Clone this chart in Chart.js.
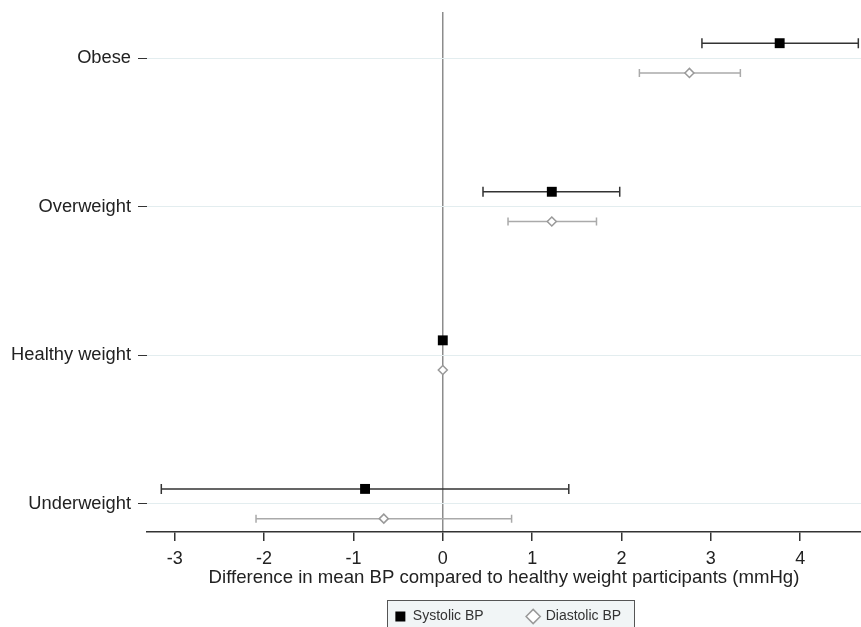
<!DOCTYPE html>
<html>
<head>
<meta charset="utf-8">
<script src="https://cdn.jsdelivr.net/npm/chart.js@4.4.0/dist/chart.umd.min.js"></script>
<style>
html,body{margin:0;padding:0;background:#fff;overflow:hidden;}
canvas{display:block;}
</style>
</head>
<body>
<canvas id="bpChart" width="861" height="627"></canvas>
<script>
// categories, bottom to top
let groups = ['Underweight', 'Healthy weight', 'Overweight', 'Obese'];
let sysMean = [-0.87, 0, 1.22, 3.77];
let sysLo   = [-3.15, 0, 0.45, 2.90];
let sysHi   = [1.41, 0, 1.98, 4.65];
let diaMean = [-0.66, 0, 1.22, 2.76];
let diaLo   = [-2.09, 0, 0.73, 2.20];
let diaHi   = [0.77, 0, 1.72, 3.33];
let xTicks  = [-3, -2, -1, 0, 1, 2, 3, 4];

const font = "'Liberation Sans', Arial, sans-serif";
const legendShift = 4;

// confidence interval whiskers, drawn under the points
const ciPlugin = {
    id: 'ci',
    beforeDatasetsDraw(chart) {
        const ctx = chart.ctx, xs = chart.scales.x, ys = chart.scales.y;
        chart.data.datasets.forEach(ds => {
            ctx.save();
            ctx.strokeStyle = ds.ciColor;
            ctx.lineWidth = 1.5;
            ds.data.forEach((p, i) => {
                if (ds.lo[i] === ds.hi[i]) return;
                let x1 = xs.getPixelForValue(ds.lo[i]), x2 = xs.getPixelForValue(ds.hi[i]);
                let y = ys.getPixelForValue(p.y), c = ds.capHalf;
                ctx.beginPath();
                ctx.moveTo(x1, y); ctx.lineTo(x2, y);
                ctx.moveTo(x1, y - c); ctx.lineTo(x1, y + c);
                ctx.moveTo(x2, y - c); ctx.lineTo(x2, y + c);
                ctx.stroke();
            });
            ctx.restore();
        });
    }
};

// grey framed box behind the legend, legend nudged a bit to the right
const legendBox = {
    id: 'legendBox',
    afterLayout(chart) {
        chart.legend.left += legendShift;
        chart.legend.right += legendShift;
    },
    beforeDraw(chart) {
        const lg = chart.legend;
        if (!lg || !lg.legendHitBoxes.length) return;
        const hb = lg.legendHitBoxes;
        let left = Math.round(Math.min(...hb.map(h => h.left)) - 8);
        let right = Math.round(Math.max(...hb.map(h => h.left + h.width)) + 13);
        let top = Math.round(hb[0].top - 10);
        const ctx = chart.ctx;
        ctx.save();
        ctx.fillStyle = '#f1f5f6';
        ctx.strokeStyle = '#555';
        ctx.lineWidth = 1;
        ctx.fillRect(left, top, right - left, 60);
        ctx.strokeRect(left + 0.5, top + 0.5, right - left, 60);
        ctx.restore();
    }
};

new Chart(document.getElementById('bpChart'), {
    type: 'scatter',
    data: {
        datasets: [{
            label: 'Systolic BP',
            data: groups.map((g, i) => ({x: sysMean[i], y: i + 1 + 0.1})),
            lo: sysLo, hi: sysHi, ciColor: '#333', capHalf: 5,
            pointStyle: 'rect', pointRadius: 7,
            backgroundColor: '#000', borderColor: '#000', borderWidth: 0
        }, {
            label: 'Diastolic BP',
            data: groups.map((g, i) => ({x: diaMean[i], y: i + 1 - 0.1})),
            lo: diaLo, hi: diaHi, ciColor: '#aaa', capHalf: 4,
            pointStyle: 'rectRot', pointRadius: 4.5,
            backgroundColor: '#fff', borderColor: '#999', borderWidth: 1.5
        }]
    },
    options: {
        responsive: false, animation: false, devicePixelRatio: 1, events: [],
        layout: {autoPadding: false, padding: {top: 12, right: 0, left: 0, bottom: -6.5}},
        plugins: {
            tooltip: {enabled: false},
            legend: {
                position: 'bottom', fullSize: false,
                labels: {
                    usePointStyle: true, boxWidth: 11, boxHeight: 10, padding: 44,
                    color: '#333', font: {family: font, size: 14}
                }
            }
        },
        scales: {
            x: {
                type: 'linear', min: -3.31, max: 4.68,
                afterBuildTicks: a => { a.ticks = xTicks.map(v => ({value: v})); },
                afterFit: a => { a.height = 33.5; a.paddingLeft = 0; a.paddingRight = 0; },
                grid: {
                    color: c => (c.tick && c.tick.value === 0) ? '#8c8c8c' : 'rgba(0,0,0,0)',
                    lineWidth: 1.5, tickColor: '#333', tickLength: 9
                },
                border: {color: '#333', width: 1.5},
                ticks: {color: '#222', font: {family: font, size: 18}, padding: 7},
                title: {
                    display: true,
                    text: 'Difference in mean BP compared to healthy weight participants (mmHg)',
                    color: '#222', font: {family: font, size: 18.6}, padding: {top: 0, bottom: -23.7}
                }
            },
            y: {
                type: 'linear', min: 0.81, max: 4.31,
                afterBuildTicks: a => { a.ticks = groups.map((g, i) => ({value: i + 1})); },
                afterFit: a => { a.width = 147; a.paddingTop = 0; a.paddingBottom = 0; },
                grid: {color: '#e3edef', lineWidth: 1, tickColor: '#333', tickLength: 9},
                border: {display: false},
                ticks: {
                    color: '#222', font: {family: font, size: 18.3}, padding: 7,
                    callback: v => groups[v - 1]
                }
            }
        }
    },
    plugins: [ciPlugin, legendBox]
});
</script>
</body>
</html>
